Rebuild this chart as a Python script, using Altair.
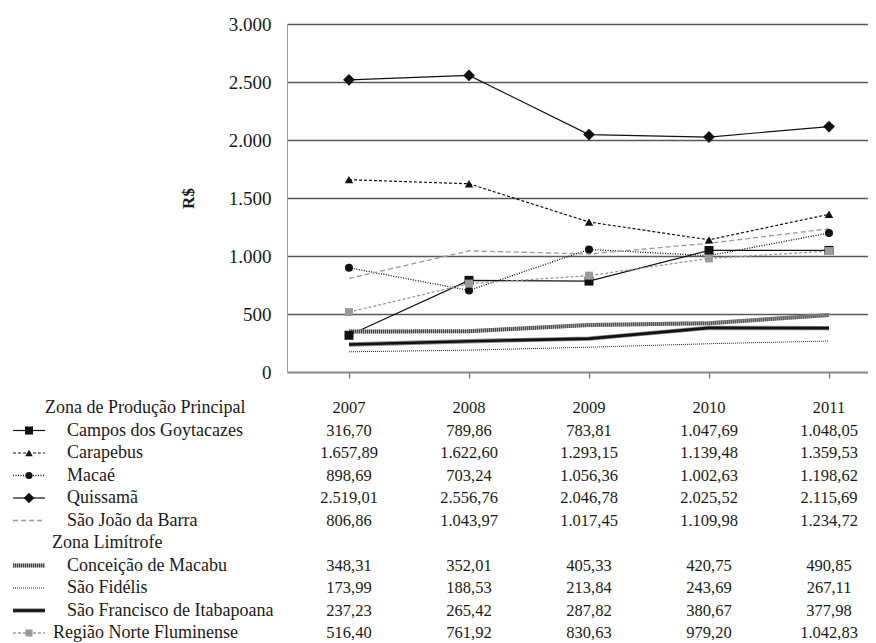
import altair as alt
import pandas as pd

# ---------------- data ----------------
years = [2007, 2008, 2009, 2010, 2011]
series = ["Campos dos Goytacazes", "Carapebus", "Macaé", "Quissamã", "São João da Barra",
          "Conceição de Macabu", "São Fidélis", "São Francisco de Itabapoana",
          "Região Norte Fluminense"]
campos = [316.70, 789.86, 783.81, 1047.69, 1048.05]
carapebus = [1657.89, 1622.60, 1293.15, 1139.48, 1359.53]
macae = [898.69, 703.24, 1056.36, 1002.63, 1198.62]
quissama = [2519.01, 2556.76, 2046.78, 2025.52, 2115.69]
sao_joao = [806.86, 1043.97, 1017.45, 1109.98, 1234.72]
conceicao = [348.31, 352.01, 405.33, 420.75, 490.85]
sao_fidelis = [173.99, 188.53, 213.84, 243.69, 267.11]
sao_francisco = [237.23, 265.42, 287.82, 380.67, 377.98]
regiao = [516.40, 761.92, 830.63, 979.20, 1042.83]
values = [campos, carapebus, macae, quissama, sao_joao, conceicao, sao_fidelis,
          sao_francisco, regiao]
groups = ["Zona de Produção Principal", "Zona Limítrofe"]
group_rows = [0, 6]
series_rows = [1, 2, 3, 4, 5, 7, 8, 9, 10]
y_ticks = [0, 500, 1000, 1500, 2000, 2500, 3000]
y_title = "R$"

# ---------------- styles ----------------
FONT = "Liberation Serif"
styles = [
    dict(color="#111", width=1.2, shape="square", size=81),
    dict(color="#111", width=1.2, dash=[3, 2], shape="triangle-up", size=72),
    dict(color="#111", width=1.3, dash=[1, 1.5], shape="circle", size=64),
    dict(color="#111", width=1.2, shape="diamond", size=140),
    dict(color="#9a9a9a", width=1.3, dash=[5, 3]),
    dict(color="#444", width=4, dash=[1, 1], under=("#a8a8a8", 4)),
    dict(color="#222", width=1, dash=[1, 1]),
    dict(color="#111", width=2.6, under=("#8a8a8a", 4.4)),
    dict(color="#9a9a9a", width=1.3, dash=[3, 2], shape="square", size=64),
]

LEFT = 287          # page x of plot left edge
TOP = 24            # page y of plot top edge
W, H = 581, 348


def px(xpage):
    return xpage - LEFT


def br(v):
    s = f"{v:,.2f}"
    return s.replace(",", "X").replace(".", ",").replace("X", ".")


xscale = alt.Scale(domain=[2006.4833, 2011.325], nice=False, zero=False)
xaxis = alt.Axis(values=years, labels=False, grid=False, ticks=True, tickSize=6,
                 tickColor="#8a8a8a", tickWidth=1.5, domainColor="#8a8a8a",
                 domainWidth=1.5, title=None)
X = alt.X("year:Q", scale=xscale, axis=xaxis)

yscale = alt.Scale(domain=[0, 3000], nice=False, zero=True)
yaxis = alt.Axis(values=y_ticks, grid=True, gridColor="#5a5a5a", gridWidth=1.4,
                 ticks=False, tickSize=0, labelPadding=16, domainColor="#9a9a9a",
                 domainWidth=1, labelFont=FONT, labelFontSize=19, labelColor="#1a1a1a",
                 labelExpr="replace(format(datum.value, ','), ',', '.')",
                 title=y_title, titleFont=FONT, titleFontSize=17, titleFontWeight="bold",
                 titleColor="#1a1a1a", titleX=-90, titleY=H / 2, titleAngle=270)

rowscale = alt.Scale(domain=[0, 10], range=[408 - TOP, 633 - TOP], nice=False, zero=False)
ROW = alt.Y("row:Q", scale=rowscale, axis=None)

layers = []
first = True
for name, vals, st in zip(series, values, styles):
    df = pd.DataFrame({"year": years, "value": vals, "serie": name})
    Y = alt.Y("value:Q", scale=yscale, axis=yaxis if first else None)
    first = False
    if "under" in st:
        c, w = st["under"]
        layers.append(alt.Chart(df).mark_line(color=c, strokeWidth=w).encode(x=X, y=Y))
        Y = alt.Y("value:Q", scale=yscale, axis=None)
    kw = dict(color=st["color"], strokeWidth=st["width"])
    if "dash" in st:
        kw["strokeDash"] = st["dash"]
    layers.append(alt.Chart(df).mark_line(**kw).encode(x=X, y=Y))

for name, vals, st in zip(series, values, styles):
    if "shape" in st:
        df = pd.DataFrame({"year": years, "value": vals, "serie": name})
        layers.append(alt.Chart(df).mark_point(
            filled=True, shape=st["shape"], size=st["size"], color=st["color"], opacity=1
        ).encode(x=X, y=alt.Y("value:Q", scale=yscale, axis=None)))

# ---------------- table ----------------
tf_num = dict(font=FONT, fontSize=16.5, color="#1a1a1a", baseline="middle")
tf_lab = dict(font=FONT, fontSize=18, color="#1a1a1a", baseline="middle")

hdr = pd.DataFrame({"year": years, "row": 0, "label": [str(y) for y in years]})
layers.append(alt.Chart(hdr).mark_text(align="center", **tf_num).encode(x=X, y=ROW, text="label:N"))

rows_v = []
for name, vals, r in zip(series, values, series_rows):
    for y, v in zip(years, vals):
        rows_v.append({"year": y, "row": r, "label": br(v)})
layers.append(alt.Chart(pd.DataFrame(rows_v)).mark_text(align="center", **tf_num)
              .encode(x=X, y=ROW, text="label:N"))

# row labels
lab_x = [67] * 8 + [53]
for name, r, lx in zip(series, series_rows, lab_x):
    d = pd.DataFrame({"row": [r], "label": [name]})
    layers.append(alt.Chart(d).mark_text(align="left", **tf_lab)
                  .encode(x=alt.value(px(lx)), y=ROW, text="label:N"))
for g, r, lx in zip(groups, group_rows, [45, 52]):
    d = pd.DataFrame({"row": [r], "label": [g]})
    layers.append(alt.Chart(d).mark_text(align="left", **tf_lab)
                  .encode(x=alt.value(px(lx)), y=ROW, text="label:N"))

# legend swatches
for name, r, st in zip(series, series_rows, styles):
    d = pd.DataFrame({"row": [r], "serie": [name]})
    enc = dict(x=alt.value(px(13)), x2=alt.value(px(45)), y=ROW)
    if "under" in st:
        c, w = st["under"]
        layers.append(alt.Chart(d).mark_rule(color=c, strokeWidth=w).encode(**enc))
    kw = dict(color=st["color"], strokeWidth=st["width"])
    if "dash" in st:
        kw["strokeDash"] = st["dash"]
    layers.append(alt.Chart(d).mark_rule(**kw).encode(**enc))
    if "shape" in st:
        layers.append(alt.Chart(d).mark_point(
            filled=True, shape=st["shape"], size=st["size"] * 0.8, color=st["color"], opacity=1
        ).encode(x=alt.value(px(29)), y=ROW))

chart = alt.layer(*layers).resolve_scale(y="independent").properties(
    width=W, height=H,
    autosize=alt.AutoSizeParams(type="none"),
    padding={"left": LEFT - 8, "top": TOP - 8, "right": 0, "bottom": 635 - (TOP - 8) - H},
    background="white",
).configure_view(stroke=None)

chart.save("out.html", embed_options={"renderer": "svg", "actions": False})
